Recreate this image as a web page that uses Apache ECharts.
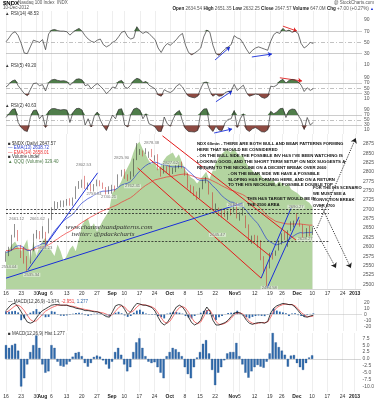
<!DOCTYPE html>
<html>
<head>
<meta charset="utf-8">
<script src="https://cdn.jsdelivr.net/npm/echarts@6/dist/echarts.min.js"></script>
<style>
  html, body { margin: 0; padding: 0; background: #fff; }
  #chart { width: 377px; height: 400px; }
</style>
</head>
<body>
<div id="chart"></div>
<script>
// ---- data ----
var holidays = ['2012-09-03', '2012-10-29', '2012-10-30', '2012-11-22', '2012-12-25', '2013-01-01'];

var tickDates = ['2012-07-16', '2012-07-23', '2012-07-30', '2012-08-01', '2012-08-06', '2012-08-13', '2012-08-20', '2012-08-27',
  '2012-09-04', '2012-09-10', '2012-09-17', '2012-09-24', '2012-10-01', '2012-10-08', '2012-10-15', '2012-10-22',
  '2012-11-01', '2012-11-05', '2012-11-12', '2012-11-19', '2012-11-26', '2012-12-03', '2012-12-10', '2012-12-17',
  '2012-12-24', '2012-12-31'];
var tickLabels = ['16', '23', '30', 'Aug', '6', '13', '20', '27', 'Sep', '10', '17', '24', 'Oct', '8', '15', '22',
  'Nov', '5', '12', '19', '26', 'Dec', '10', '17', '24', '2013'];
var boldTicks = ['Aug', 'Sep', 'Oct', 'Nov', 'Dec', '2013'];

// daily candles: open, close, low, high
var opens = [2572, 2582, 2596, 2630, 2640, 2598, 2596, 2570, 2560, 2592, 2630, 2636, 2635, 2638, 2640, 2676, 2705, 2710, 2716, 2712,
  2720, 2725, 2716, 2730, 2760, 2768, 2780, 2760, 2765, 2752, 2768, 2774, 2770, 2758, 2750, 2752, 2758, 2762, 2792, 2800,
  2786, 2785, 2795, 2835, 2852, 2852, 2854, 2845, 2856, 2838, 2842, 2806, 2800, 2812, 2810, 2802, 2806, 2816, 2826, 2810,
  2794, 2760, 2756, 2742, 2736, 2758, 2778, 2770, 2742, 2705, 2698, 2695, 2690, 2680, 2695, 2695, 2715, 2676, 2690, 2680,
  2654, 2618, 2624, 2614, 2612, 2568, 2545, 2545, 2580, 2580, 2592, 2610, 2630, 2612, 2646, 2662, 2675, 2666, 2656, 2630,
  2648, 2636];
var closes = [2580, 2595, 2628, 2650, 2620, 2598, 2568, 2548, 2585, 2630, 2636, 2628, 2640, 2615, 2672, 2702, 2712, 2715, 2718, 2720,
  2722, 2716, 2728, 2758, 2772, 2775, 2760, 2768, 2755, 2765, 2775, 2770, 2762, 2745, 2752, 2760, 2758, 2790, 2800, 2785,
  2782, 2795, 2830, 2855, 2858, 2852, 2858, 2850, 2845, 2840, 2808, 2795, 2815, 2805, 2800, 2805, 2815, 2822, 2815, 2795,
  2760, 2750, 2740, 2732, 2755, 2778, 2782, 2745, 2705, 2712, 2690, 2682, 2688, 2690, 2690, 2712, 2678, 2688, 2700, 2655,
  2618, 2620, 2622, 2612, 2570, 2545, 2530, 2580, 2578, 2585, 2615, 2632, 2622, 2640, 2660, 2665, 2668, 2660, 2632, 2645,
  2636, 2647.57];
var lows = [2560, 2575, 2590, 2625, 2615, 2570, 2555, 2535, 2555, 2588, 2622, 2620, 2622, 2604, 2636, 2672, 2698, 2702, 2706, 2706,
  2710, 2710, 2710, 2728, 2755, 2758, 2755, 2752, 2748, 2748, 2762, 2762, 2755, 2740, 2741, 2742, 2748, 2760, 2788, 2782,
  2776, 2780, 2788, 2832, 2846, 2842, 2848, 2838, 2840, 2830, 2805, 2788, 2796, 2798, 2792, 2795, 2800, 2810, 2810, 2790,
  2756, 2744, 2736, 2725, 2730, 2754, 2770, 2740, 2700, 2695, 2682, 2678, 2680, 2672, 2684, 2692, 2676, 2670, 2684, 2650,
  2615, 2608, 2612, 2598, 2564, 2530, 2494, 2542, 2566, 2576, 2590, 2606, 2618, 2600, 2642, 2652, 2662, 2654, 2623, 2626,
  2628, 2632];
var highs = [2588, 2600, 2632, 2661, 2645, 2605, 2600, 2575, 2590, 2635, 2645, 2642, 2655, 2640, 2676, 2706, 2722, 2720, 2724, 2724,
  2728, 2730, 2732, 2762, 2776, 2780, 2790, 2772, 2770, 2768, 2780, 2778, 2772, 2760, 2762, 2766, 2764, 2794, 2806, 2808,
  2794, 2802, 2836, 2878, 2862, 2858, 2864, 2855, 2862, 2845, 2848, 2812, 2820, 2816, 2820, 2812, 2818, 2827, 2828, 2812,
  2798, 2766, 2762, 2748, 2758, 2780, 2787, 2775, 2746, 2716, 2705, 2702, 2698, 2696, 2702, 2717, 2718, 2692, 2706, 2684,
  2660, 2630, 2632, 2630, 2618, 2575, 2548, 2584, 2584, 2590, 2617, 2636, 2640, 2644, 2668, 2670, 2690, 2672, 2660, 2650,
  2656, 2652];
var emaFast = [2585, 2587, 2592, 2600, 2603, 2602, 2597, 2590, 2590, 2596, 2601, 2604, 2609, 2609, 2618, 2630, 2642, 2652, 2661, 2669,
  2676, 2681, 2687, 2697, 2708, 2717, 2723, 2729, 2733, 2738, 2743, 2747, 2749, 2749, 2750, 2752, 2753, 2759, 2765, 2768,
  2770, 2774, 2782, 2793, 2802, 2810, 2817, 2822, 2825, 2827, 2825, 2821, 2820, 2818, 2815, 2814, 2814, 2815, 2815, 2812,
  2804, 2797, 2789, 2781, 2778, 2778, 2779, 2774, 2764, 2757, 2748, 2738, 2731, 2725, 2720, 2719, 2713, 2709, 2708, 2700,
  2689, 2679, 2671, 2662, 2649, 2634, 2620, 2614, 2609, 2605, 2607, 2611, 2613, 2617, 2624, 2630, 2635, 2638, 2637, 2638,
  2638, 2639];
var emaSlow = [2590, 2590, 2592, 2595, 2596, 2596, 2594, 2592, 2591, 2593, 2596, 2598, 2600, 2601, 2605, 2610, 2616, 2621, 2627, 2632,
  2637, 2641, 2646, 2652, 2659, 2665, 2670, 2675, 2680, 2684, 2689, 2693, 2697, 2700, 2703, 2707, 2710, 2714, 2719, 2723,
  2727, 2731, 2737, 2744, 2751, 2758, 2764, 2769, 2774, 2779, 2781, 2783, 2785, 2787, 2788, 2789, 2791, 2793, 2794, 2795,
  2793, 2791, 2788, 2785, 2783, 2783, 2783, 2781, 2777, 2773, 2769, 2764, 2760, 2756, 2752, 2750, 2746, 2743, 2740, 2735,
  2728, 2722, 2716, 2710, 2702, 2693, 2684, 2678, 2673, 2668, 2666, 2664, 2662, 2661, 2661, 2661, 2661, 2661, 2660, 2659,
  2658, 2658];
var volume = [37, 41, 46, 49, 43, 39, 45, 51, 27, 49, 34, 43, 49, 53, 44, 39, 34, 46, 39, 29,
  34, 41, 45, 39, 51, 65, 71, 73, 63, 68, 59, 65, 71, 76, 81, 99, 103, 105, 111, 119,
  125, 131, 141, 149, 152, 145, 139, 133, 129, 131, 123, 127, 133, 137, 139, 141, 135, 139, 131, 123,
  119, 115, 113, 109, 113, 117, 121, 113, 121, 129, 135, 139, 142, 144, 141, 145, 141, 137, 139, 131,
  126, 123, 119, 121, 117, 113, 114, 111, 113, 108, 111, 109, 106, 109, 103, 101, 99, 96, 94, 91,
  89, 85];
var rsi14 = [51, 58, 66, 69, 62, 48, 31, 30, 42, 54, 52, 50, 55, 37, 65, 72, 73, 71, 70, 70,
  69, 63, 68, 72, 75, 70, 62, 56, 52, 50, 54, 56, 46, 42, 45, 50, 53, 60, 68, 70,
  60, 56, 58, 78, 70, 66, 69, 66, 60, 55, 40, 32, 42, 48, 45, 50, 55, 62, 66, 45,
  32, 28, 31, 35, 40, 60, 72, 68, 45, 30, 27, 33, 38, 42, 46, 62, 58, 56, 48, 38,
  30, 36, 40, 42, 40, 38, 36, 52, 64, 68, 66, 75, 70, 72, 68, 70, 66, 48, 40, 44,
  50, 48];
var rsi5 = [55, 65, 78, 82, 60, 45, 30, 22, 45, 68, 70, 60, 64, 40, 72, 82, 84, 80, 78, 79,
  76, 62, 72, 84, 86, 82, 60, 64, 48, 60, 68, 58, 46, 30, 40, 55, 52, 76, 80, 55,
  50, 62, 80, 88, 84, 72, 76, 62, 55, 48, 25, 20, 45, 38, 34, 42, 58, 66, 55, 35,
  20, 16, 14, 20, 50, 72, 74, 40, 20, 28, 20, 22, 34, 38, 40, 65, 42, 52, 62, 35,
  20, 24, 28, 26, 16, 12, 18, 58, 56, 62, 78, 84, 70, 80, 84, 82, 74, 62, 38, 52,
  42, 49.2];
var rsi2 = [60, 75, 92, 95, 40, 20, 8, 4, 60, 88, 90, 55, 70, 20, 85, 95, 96, 92, 90, 92,
  90, 40, 80, 95, 97, 90, 30, 55, 22, 65, 82, 50, 25, 8, 40, 70, 55, 92, 95, 30,
  22, 72, 94, 98, 90, 55, 75, 35, 30, 22, 5, 4, 62, 35, 25, 55, 80, 88, 45, 15,
  4, 3, 2, 8, 80, 94, 95, 18, 4, 25, 10, 8, 40, 52, 55, 88, 20, 55, 75, 12,
  4, 15, 20, 12, 3, 2, 10, 85, 75, 82, 95, 97, 60, 88, 94, 92, 70, 50, 12, 60,
  30, 40.6];
var macdLine = [6, 12, 17, 18, 12, 4, -5, -13, -15, -13, -6, 1, 6, 9, 12, 15, 16, 16, 15, 15,
  15, 13, 12, 10, 9, 8, 6, 6, 5, 4, 4, 2, -1, -4, -5, 4, 14, 16, 15, 8,
  -1, 4, 12, 18, 17, 15, 15, 13, 11, 5, -5, -14, -18, -14, -6, 4, 12, 15, 12, 5,
  -5, -14, -18, -15, -10, 3, 12, 5, -10, -18, -18, -16, -14, -10, -4, 2, 3, 2, -2, -10,
  -15, -17, -15, -14, -14, -15, -12, 2, 10, 14, 16, 18, 17, 16, 16, 12, 6, 0, -4, -5,
  -3, -1.7];
var macdSignal = [3, 6, 10, 14, 15, 12, 6, -2, -9, -12, -11, -6, 0, 5, 8, 11, 13, 15, 15, 15,
  15, 14, 13, 12, 10, 9, 8, 7, 6, 5, 4, 3, 2, 0, -2, -1, 5, 11, 14, 12,
  6, 3, 6, 12, 16, 16, 15, 14, 12, 9, 2, -6, -13, -15, -11, -3, 5, 11, 13, 10,
  3, -6, -13, -16, -13, -4, 6, 7, -2, -12, -17, -17, -15, -12, -7, -1, 2, 2, 0, -6,
  -12, -15, -16, -15, -14, -14, -13, -5, 5, 11, 14, 16, 17, 16, 16, 14, 9, 3, -1, -4,
  -4, -3];
var macdHist = [5, 4, 5, 5.5, 3, -10, -7, -2, 2.5, 5, 8.5, 4, -2, -5, -4.5, 5, 4, -1, -2.5, -2.8,
  -2, -1, 0.8, 2.2, 2.5, 1, -1.5, -2.8, -1.5, 0.7, 1.2, 0.8, -0.5, -2, -3.5, -1, 2.5, 4, 1.5, -2,
  -4.5, -3, 2.5, 6, 7.5, 4, 1, -1, -1.5, -1.2, -3, -5, -7, 1, 2.5, 4, 3.5, 2.5, 1, -3,
  -5.5, -7, -3, 0.5, 2.5, 5.5, 6.8, 2, -4, -9.5, -5, -3, -0.5, 2, 2.5, 2.5, 5.8, 1, -2, -5,
  -6.8, -4.5, -3, -2.2, -2.8, -3.2, -1, 2, 9.4, 6, 4.3, 3, 1.5, -2.8, 1.2, 1.4, -1.5, -3, -4, -1.5,
  0.5, 1.3];

// drawn trend lines on the price panel: [x index, price] pairs
var redLines = [[[51.6, 2897], [95.6, 2618]], [[47.3, 2835], [87.4, 2573]], [[43.4, 2811], [84.1, 2516]]];
var blueLines = [[[0, 2516], [77.9, 2717]], [[7.2, 2538], [30.2, 2798]], [[84.1, 2516], [94.0, 2704]], [[86.1, 2490], [96.6, 2680]]];
var dashedLevels = [[0, 106.5, 2701], [0, 106.5, 2690], [11, 106.5, 2615]];
var arrowLines = [[[102.5, 2650], [115.3, 2891]], [[101.2, 2656], [108.8, 2543]], [[103.8, 2712], [113.7, 2543]]];
var rsi14Arrows = [[[68.7, 18.6], [73.6, 41.8], '#1a2fd8'], [[80.8, 24], [87.4, 29.3], '#1a2fd8'], [[91, 79], [95.6, 70.3], '#e02020']];
var rsi5Arrows = [[[90, 90], [97.3, 77.8], '#e02020'], [[69, -1], [74.3, 40], '#1a2fd8']];
var rsi2Arrows = [[[68.4, -2], [74.3, 14], '#1a2fd8']];
var priceNotes = [[3.5, 2674, '2661.12'], [1.0, 2546, '2554.04'], [8.5, 2525, '2535.34'], [10.3, 2674, '2661.62'],
  [12.8, 2598, '2604.23'], [29, 2742, '2758.84'], [33.8, 2733, '2740.21'], [41.7, 2762, '2762.41'], [25.6, 2819, '2802.53'],
  [38.1, 2838, '2825.90'], [48, 2878, '2878.38'], [54.2, 2824, '2827.62'], [66.4, 2808, '2779.32'], [75.6, 2712, '2692.93'],
  [69.7, 2632, '2645.47'], [95.6, 2707, '2690.27'], [98.6, 2620, '2628.27'], [86.8, 2490, '2494.58']];

var noteMain = ['NDX 60min - THERE ARE BOTH BULL AND BEAR PATTERNS FORMING',
  'HERE THAT SHOULD BE CONSIDERED',
  '- ON THE BULL SIDE THE POSSIBLE INV H&S I\'VE BEEN WATCHING IS',
  'LOOKING GOOD, AND THE SHORT TERM SETUP ON NDX SUGGESTS A',
  'RETURN TO THE NECKLINE ON A DECENT BREAK OVER 2660'];
var noteBear = ['- ON THE BEAR SIDE WE HAVE A POSSIBLE',
  'SLOPING H&S FORMING HERE, AND ON A RETURN',
  'TO THE H/S NECKLINE, A POSSIBLE DOUBLE TOP'];
var noteTarget = ['THIS H&S TARGET WOULD BE IN', 'THE 2500 AREA'];
var noteIhs = ['FOR THE IHS SCENARIO', 'WE MUST SEE A', 'CONVICTION BREAK', 'OVER 2700'];

// ---- trading-day calendar for the date axis ----
function fmt(d) {
  var m = d.getUTCMonth() + 1, day = d.getUTCDate();
  return d.getUTCFullYear() + '-' + (m < 10 ? '0' : '') + m + '-' + (day < 10 ? '0' : '') + day;
}
var days = [];
for (var t = Date.UTC(2012, 6, 16); t <= Date.UTC(2013, 0, 3); t += 86400000) {
  var d = new Date(t);
  var wd = d.getUTCDay();
  if (wd === 0 || wd === 6) continue;
  if (holidays.indexOf(fmt(d)) >= 0) continue;
  days.push(fmt(d));
}
var last = days.length - 1;
var tickMap = {};
tickDates.forEach(function (s, i) { tickMap[s] = tickLabels[i]; });
function isTick(idx, val) { return tickMap[val] !== undefined; }

var font = 'Liberation Sans, Arial, sans-serif';
var gridPos = [[11, 60], [62, 40], [102, 32], [134, 155], [298, 33], [333, 59]];
var yRange = [[-1, 106], [-2, 150], [-6, 122], [2487, 2902], [-28, 27], [-12, 9.4]];
var yTicks = [[10, 30, 50, 70, 90], [10, 30, 50, 70, 90], [10, 30, 50, 70, 90],
  [2500, 2525, 2550, 2575, 2600, 2625, 2650, 2675, 2700, 2725, 2750, 2775, 2800, 2825, 2850, 2875],
  [-20, -10, 0, 10, 20], [-10, -7.5, -5, -2.5, 0, 2.5, 5, 7.5]];

var grids = gridPos.map(function (g) { return { left: 6, right: 15, top: g[0], height: g[1] }; });

var xAxes = [];
gridPos.forEach(function (g, i) {
  var labelled = (i === 3 || i === 5);
  xAxes.push({
    type: 'category', gridIndex: i, data: days, boundaryGap: false,
    axisLine: { show: labelled, lineStyle: { color: '#aaa', width: 0.5 } },
    axisTick: { show: false },
    axisLabel: {
      show: labelled, interval: isTick, fontSize: 5, color: '#333', margin: 2, fontFamily: font,
      formatter: function (v) {
        var s = tickMap[v];
        return boldTicks.indexOf(s) >= 0 ? '{b|' + s + '}' : s;
      },
      rich: { b: { fontWeight: 'bold', fontSize: 5, fontFamily: font, color: '#222' } }
    },
    splitLine: { show: true, interval: isTick, lineStyle: { color: '#e2e2e2', width: 0.6 } }
  });
});
for (var gi = 0; gi < 4; gi++) {
  xAxes.push({ type: 'value', gridIndex: gi, min: 0, max: last, show: false });
}
var yAxes = gridPos.map(function (g, i) {
  return {
    type: 'value', gridIndex: i, position: 'right', min: yRange[i][0], max: yRange[i][1],
    axisLine: { show: false }, axisTick: { show: false }, splitLine: { show: false },
    axisLabel: {
      customValues: yTicks[i], fontSize: 5, color: '#555', margin: 2, fontFamily: font,
      formatter: function (v) { return i === 5 ? v.toFixed(1) : String(v); }
    }
  };
});
yAxes.push({ type: 'value', gridIndex: 3, min: 0, max: 160, show: false });

var series = [];

function rsiSeries(vals, gi, arrows) {
  var above = vals.map(function (v) { return Math.max(v - 70, 0); });
  var belowBase = vals.map(function (v) { return Math.min(v, 30); });
  var below = vals.map(function (v) { return 30 - Math.min(v, 30); });
  var seventy = vals.map(function () { return 70; });
  var common = { type: 'line', xAxisIndex: gi, yAxisIndex: gi, symbol: 'none', silent: true, lineStyle: { width: 0, opacity: 0 } };
  series.push(Object.assign({}, common, { data: seventy, stack: 'hi' + gi }));
  series.push(Object.assign({}, common, { data: above, stack: 'hi' + gi, areaStyle: { color: '#4f7d4a', opacity: 1 } }));
  series.push(Object.assign({}, common, { data: belowBase, stack: 'lo' + gi }));
  series.push(Object.assign({}, common, { data: below, stack: 'lo' + gi, areaStyle: { color: '#8e4a42', opacity: 1 } }));
  series.push({
    type: 'line', xAxisIndex: gi, yAxisIndex: gi, data: vals, symbol: 'none', z: 5,
    lineStyle: { color: '#333', width: 0.7 },
    markLine: {
      silent: true, symbol: 'none', label: { show: false },
      data: [
        { yAxis: 70, lineStyle: { color: '#aaa', width: 0.6, type: 'solid' } },
        { yAxis: 30, lineStyle: { color: '#aaa', width: 0.6, type: 'solid' } },
        { yAxis: 50, lineStyle: { color: '#999', width: 0.6, type: [4, 2, 1, 2] } }
      ]
    }
  });
  series.push({
    type: 'line', xAxisIndex: 6 + gi, yAxisIndex: gi, data: [], z: 8,
    markLine: {
      silent: true, label: { show: false }, symbolSize: 4,
      data: arrows.map(function (a) {
        return [{ coord: a[0], symbol: 'none', lineStyle: { color: a[2], width: 0.9, type: 'solid' } },
                { coord: a[1], symbol: 'arrow' }];
      })
    }
  });
}
rsiSeries(rsi14, 0, rsi14Arrows);
rsiSeries(rsi5, 1, rsi5Arrows);
rsiSeries(rsi2, 2, rsi2Arrows);

// price panel
series.push({
  type: 'line', xAxisIndex: 3, yAxisIndex: 6, data: volume, symbol: 'none', z: 1,
  lineStyle: { width: 0 }, areaStyle: { color: '#b3d4a0', opacity: 1 }
});
series.push({
  type: 'line', xAxisIndex: 3, yAxisIndex: 3, data: emaSlow, symbol: 'none', z: 3,
  lineStyle: { color: '#e33', width: 0.7 }
});
series.push({
  type: 'line', xAxisIndex: 3, yAxisIndex: 3, data: emaFast, symbol: 'none', z: 3,
  lineStyle: { color: '#2a3fd0', width: 0.7 }
});
series.push({
  type: 'candlestick', xAxisIndex: 3, yAxisIndex: 3, barWidth: 1.3, z: 4,
  data: closes.map(function (c, i) { return [opens[i], c, lows[i], highs[i]]; }),
  itemStyle: { color: '#222', color0: '#c62020', borderColor: '#222', borderColor0: '#c62020', borderWidth: 0.5 }
});

var drawn = [];
redLines.forEach(function (l) {
  drawn.push([{ coord: l[0], lineStyle: { color: '#e41a1a', width: 1, type: 'solid' } }, { coord: l[1] }]);
});
blueLines.forEach(function (l) {
  drawn.push([{ coord: l[0], lineStyle: { color: '#1a2fd8', width: 1, type: 'solid' } }, { coord: l[1] }]);
});
dashedLevels.forEach(function (l) {
  drawn.push([{ coord: [l[0], l[2]], lineStyle: { color: '#222', width: 0.8, type: [2, 1.5] } }, { coord: [l[1], l[2]] }]);
});
series.push({
  type: 'line', xAxisIndex: 9, yAxisIndex: 3, data: [], z: 6,
  markLine: { silent: true, symbol: 'none', label: { show: false }, data: drawn }
});
series.push({
  type: 'line', xAxisIndex: 9, yAxisIndex: 3, data: [], z: 6,
  markLine: {
    silent: true, label: { show: false }, symbolSize: 5,
    data: arrowLines.map(function (l) {
      return [{ coord: l[0], symbol: 'none', lineStyle: { color: '#222', width: 0.9, type: [1.2, 1.2] } },
              { coord: l[1], symbol: 'arrow' }];
    })
  }
});
series.push({
  type: 'scatter', xAxisIndex: 9, yAxisIndex: 3, symbolSize: 0, z: 7,
  data: priceNotes,
  label: {
    show: true, position: 'inside', fontSize: 4.2, color: '#555', fontFamily: font,
    backgroundColor: 'rgba(255,255,255,0.6)', padding: [0, 1],
    formatter: function (p) { return p.data[2]; }
  }
});

// MACD panels
series.push({
  type: 'bar', xAxisIndex: 4, yAxisIndex: 4, data: macdHist, barWidth: 1.8, z: 2,
  itemStyle: { color: '#2c65a8' }
});
series.push({
  type: 'line', xAxisIndex: 4, yAxisIndex: 4, data: macdSignal, symbol: 'none', z: 3,
  lineStyle: { color: '#f05050', width: 0.8 },
  markLine: { silent: true, symbol: 'none', label: { show: false }, data: [{ yAxis: 0, lineStyle: { color: '#bbb', width: 0.5, type: 'solid' } }] }
});
series.push({
  type: 'line', xAxisIndex: 4, yAxisIndex: 4, data: macdLine, symbol: 'none', z: 4,
  lineStyle: { color: '#111', width: 0.8 }
});
series.push({
  type: 'bar', xAxisIndex: 5, yAxisIndex: 5, data: macdHist, barWidth: 2.2, z: 2,
  itemStyle: { color: '#2f6aab', borderColor: '#1d4f8a', borderWidth: 0.3 }
});

// ---- text ----
function txt(x, y, s, size, color, weight, extra) {
  var st = { text: s, x: x, y: y, fontSize: size, fill: color || '#333', fontFamily: font, fontWeight: weight || 'normal', verticalAlign: 'middle' };
  if (extra) Object.assign(st, extra);
  return { type: 'text', silent: true, z: 100, style: st };
}
var graphics = [];
graphics.push(txt(3, 3, '$NDX', 6, '#000', 'bold'));
graphics.push(txt(18, 3, 'Nasdaq 100 Index  INDX', 4.5, '#555'));
graphics.push(txt(3, 8, '10-Dec-2012', 4.5, '#555'));
graphics.push(txt(374, 3, '@ StockCharts.com', 4.5, '#555', 'normal', { align: 'right' }));
graphics.push({
  type: 'text', silent: true, z: 100,
  style: {
    x: 374, y: 8.5, align: 'right', verticalAlign: 'middle', fontFamily: font, fontSize: 4.6, fill: '#555',
    text: '{b|Open} 2634.54 {b|High} 2651.35 {b|Low} 2632.25 {b|Close} 2647.57 {b|Volume} 647.0M {b|Chg} +7.00 (+0.27%) {u|▲}',
    rich: { b: { fontWeight: 'bold', fill: '#222', fontSize: 4.6, fontFamily: font }, u: { fill: '#1a2fd8', fontSize: 4 } }
  }
});
graphics.push(txt(5, 14, '▲ RSI(14) 48.53', 4.5, '#333'));
graphics.push(txt(5, 66, '▲ RSI(5) 49.20', 4.5, '#333'));
graphics.push(txt(5, 105.5, '▲ RSI(2) 40.63', 4.5, '#333'));

graphics.push(txt(8, 143.5, '■ $NDX (Daily) 2647.57', 4.5, '#333'));
graphics.push(txt(8, 148, '— EMA(13) 2638.72', 4.5, '#2a3fd0'));
graphics.push(txt(8, 152.5, '— EMA(34) 2658.01', 4.5, '#e33'));
graphics.push(txt(8, 157, '■ Volume undef', 4.5, '#333'));
graphics.push(txt(8, 161.5, '▲ QQQ (Volume) 329.40', 4.5, '#4f7d4a'));

noteMain.forEach(function (s, i) { graphics.push(txt(197, 144 + i * 5.9, s, 4.3, '#111', 'bold')); });
noteBear.forEach(function (s, i) { graphics.push(txt(228, 173.5 + i * 5.9, s, 4.3, '#111', 'bold')); });
noteTarget.forEach(function (s, i) { graphics.push(txt(247, 199 + i * 5.9, s, 4.3, '#111', 'bold')); });
noteIhs.forEach(function (s, i) { graphics.push(txt(313, 188 + i * 6, s, 4.1, '#111', 'bold')); });

graphics.push(txt(109, 227, 'www.channelsandpatterns.com', 7, '#333', 'normal',
  { align: 'center', fontStyle: 'italic', fontFamily: 'Liberation Serif, DejaVu Serif, serif' }));
graphics.push(txt(103, 234, 'twitter: @pdackcharts', 7, '#333', 'normal',
  { align: 'center', fontStyle: 'italic', fontFamily: 'Liberation Serif, DejaVu Serif, serif' }));

graphics.push({
  type: 'text', silent: true, z: 100,
  style: {
    x: 8, y: 301.5, verticalAlign: 'middle', fontFamily: font, fontSize: 4.5, fill: '#333',
    text: '— MACD(12,26,9) -1.674, {r|-2.951}, {u|1.277}',
    rich: { r: { fill: '#e33', fontSize: 4.5, fontFamily: font }, u: { fill: '#2c65a8', fontSize: 4.5, fontFamily: font } }
  }
});
graphics.push(txt(8, 334, '■ MACD(12,26,9) Hist 1.277', 4.5, '#333'));

var chart = echarts.init(document.getElementById('chart'), null, { renderer: 'canvas' });
chart.setOption({
  animation: false,
  backgroundColor: '#fff',
  grid: grids,
  xAxis: xAxes,
  yAxis: yAxes,
  series: series,
  graphic: graphics
});
</script>
</body>
</html>
